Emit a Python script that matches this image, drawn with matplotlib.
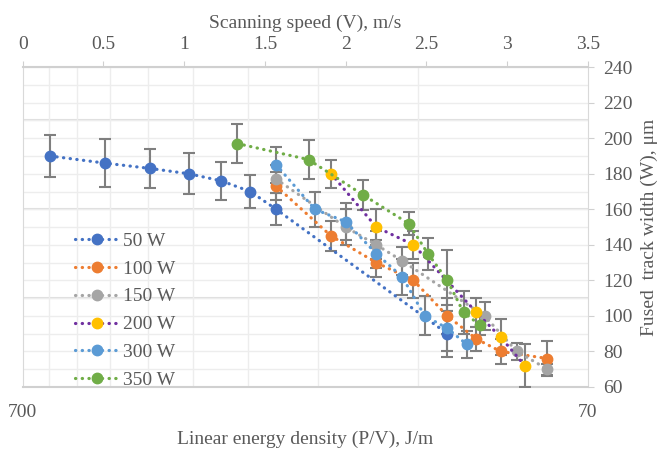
import numpy as np
import matplotlib.pyplot as plt
from matplotlib.ticker import FixedLocator, NullFormatter, FixedFormatter

plt.rcParams['font.family'] = ['Liberation Serif', 'DejaVu Serif']

TEXT = '#595959'
GRID = '#EDEDED'
GRID_DARK = '#DDDDDD'
ERR = '#7F7F7F'

# data: scanning speed (m/s), track width (um), error (um)
s50 = [0.17, 0.51, 0.79, 1.03, 1.23, 1.41, 1.57, 2.63]
w50 = [190, 186, 183, 180, 176, 170, 160, 90]
e50 = [12, 13.5, 11, 11.5, 10.5, 9.5, 9, 13]

s100 = [1.57, 1.91, 2.19, 2.42, 2.63, 2.81, 2.96, 3.25]
w100 = [173, 145, 130, 120, 100, 87, 80, 76]
e100 = [8, 8.5, 8, 10, 10, 7, 7, 10]

s150 = [1.57, 2.0, 2.19, 2.35, 2.86, 3.06, 3.25]
w150 = [177, 150, 140, 131, 100, 80, 70]
e150 = [8, 10, 8, 8, 8, 5, 3]

s200 = [1.91, 2.19, 2.42, 2.81, 2.96, 3.11]
w200 = [180, 150, 140, 102, 88, 72]
e200 = [8, 10, 8, 8, 10, 12]

s300 = [1.57, 1.81, 2.0, 2.19, 2.35, 2.49, 2.63, 2.75]
w300 = [185, 160, 153, 135, 122, 100, 93, 84]
e300 = [10, 10, 10.5, 8, 10, 11, 13, 7.5]

s350 = [1.33, 1.77, 2.11, 2.39, 2.51, 2.63, 2.73, 2.83]
w350 = [197, 188, 168, 152, 135, 120, 102, 95]
e350 = [11, 11, 8.5, 6.5, 9, 17, 12, 6]

labels = ['50 W', '100 W', '150 W', '200 W', '300 W', '350 W']
line_colors = ['#4472C4', '#ED7D31', '#A5A5A5', '#7030A0', '#5B9BD5', '#70AD47']
marker_colors = ['#4472C4', '#ED7D31', '#A5A5A5', '#FFC000', '#5B9BD5', '#70AD47']

speed_ticks = [0, 0.5, 1, 1.5, 2, 2.5, 3, 3.5]
width_ticks = list(range(60, 241, 20))
energy_labels = [700, 70]

FS = 14

fig = plt.figure(figsize=(6.68, 4.51), dpi=100)

# bottom log axis (energy density), carries the grid
axb = fig.add_axes([0.034, 0.142, 0.846, 0.709])
axb.set_xscale('log')
axb.set_xlim(700, 70)
axb.set_ylim(60, 240)
axb.xaxis.set_major_locator(FixedLocator(energy_labels))
axb.xaxis.set_major_formatter(FixedFormatter([str(v) for v in energy_labels]))
axb.xaxis.set_minor_locator(FixedLocator([70 * k for k in range(2, 10)]))
axb.xaxis.set_minor_formatter(NullFormatter())
axb.tick_params(axis='x', which='both', length=0, pad=12, labelsize=FS, labelcolor=TEXT)
axb.grid(True, axis='x', which='minor', color=GRID, lw=1)

axb.yaxis.tick_right()
axb.yaxis.set_label_position('right')
axb.set_yticks(width_ticks)
axb.yaxis.set_minor_locator(FixedLocator(range(60, 241, 10)))
axb.tick_params(axis='y', which='major', length=4, color='#D0D0D0', pad=7,
                labelsize=FS, labelcolor=TEXT)
axb.tick_params(axis='y', which='minor', length=0)
axb.grid(True, axis='y', which='both', color=GRID, lw=1)
for yv in [110, 160, 210]:
    axb.axhline(yv, color=GRID_DARK, lw=1.5, zorder=0.5)
axb.set_xlabel('Linear energy density (P/V), J/m', fontsize=FS, color=TEXT, labelpad=7)
axb.set_ylabel('Fused  track width (W), \u03bcm', fontsize=FS, color=TEXT, labelpad=6)

for sp in ['left', 'right']:
    axb.spines[sp].set_color('#D9D9D9')
axb.spines['bottom'].set_color('#D0D0D0')
axb.spines['bottom'].set_linewidth(1.5)
axb.spines['top'].set_visible(False)

# top axis (scanning speed), carries the data
ax = axb.twiny()
ax.set_xlim(0, 3.5)
ax.set_xticks(speed_ticks)
ax.set_xticklabels(['0', '0.5', '1', '1.5', '2', '2.5', '3', '3.5'])
ax.tick_params(axis='x', length=4, color='#D0D0D0', labelsize=FS, labelcolor=TEXT, pad=6)
ax.spines['top'].set_color('#D0D0D0')
ax.spines['top'].set_linewidth(1.5)
for sp in ['left', 'right', 'bottom']:
    ax.spines[sp].set_visible(False)
ax.set_xlabel('Scanning speed (V), m/s', fontsize=FS, color=TEXT, labelpad=6)

series = [(s50, w50, e50), (s100, w100, e100), (s150, w150, e150),
          (s200, w200, e200), (s300, w300, e300), (s350, w350, e350)]

handles = []
for (s, w, e), lab, lc, mc in zip(series, labels, line_colors, marker_colors):
    ax.errorbar(s, w, yerr=e, fmt='none', ecolor=ERR, elinewidth=1.5,
                capsize=4, capthick=1.5, zorder=2)
    h, = ax.plot(s, w, linestyle=(0, (0.1, 2.0)), color=lc, lw=2.3,
                 dash_capstyle='round', marker='o', markersize=7.5,
                 markerfacecolor=mc, markeredgecolor=mc, label=lab, zorder=3)
    handles.append(h)

ax.legend(handles=handles, loc='upper left', bbox_to_anchor=(0.075, 0.515),
          frameon=False, fontsize=FS, labelcolor=TEXT, handlelength=2.3,
          handletextpad=0.2, labelspacing=0.53, borderpad=0)

fig.savefig('out.png', dpi=100)
